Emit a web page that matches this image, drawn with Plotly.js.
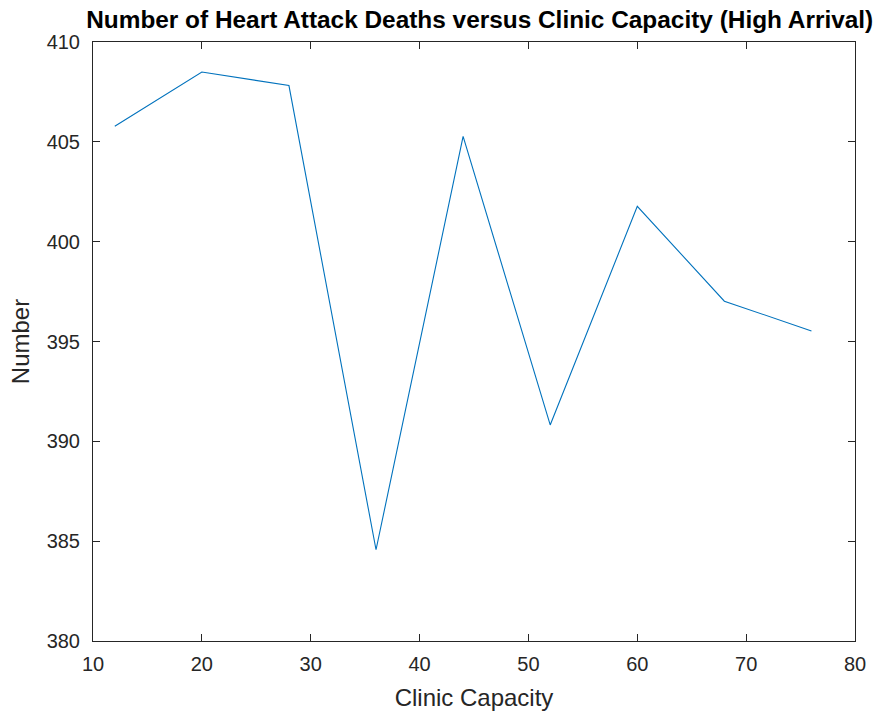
<!DOCTYPE html>
<html>
<head>
<meta charset="utf-8">
<script src="https://cdn.plot.ly/plotly-3.0.1.min.js"></script>
<style>html,body{margin:0;padding:0;background:#fff;}#chart{width:877px;height:719px;}</style>
</head>
<body>
<div id="chart"></div>
<script>
const capacity = [12, 20, 28, 36, 44, 52, 60, 68, 76];
const deaths = [405.78, 408.5, 407.82, 384.57, 405.27, 390.82, 401.77, 397.02, 395.53];
const xTicks = [10, 20, 30, 40, 50, 60, 70, 80];
const yTicks = [380, 385, 390, 395, 400, 405, 410];

const FONT = 'Liberation Sans, Arial, sans-serif';
const axisCommon = {
  showline: true, mirror: 'ticks', linecolor: '#262626', linewidth: 1,
  ticks: 'inside', ticklen: 7, tickcolor: '#262626', tickwidth: 1,
  showgrid: false, zeroline: false,
  tickfont: {family: FONT, size: 20, color: '#262626'}
};

Plotly.newPlot('chart', [{
  x: capacity, y: deaths, type: 'scatter', mode: 'lines',
  line: {color: '#0072BD', width: 1.1}
}], {
  width: 877, height: 719,
  margin: {l: 92.5, r: 22, t: 41.5, b: 77.5},
  paper_bgcolor: '#fff', plot_bgcolor: '#fff',
  showlegend: false,
  title: {text: '<b>Number of Heart Attack Deaths versus Clinic Capacity (High Arrival)</b>',
    font: {family: FONT, size: 24.4, color: '#000'},
    x: 0.547, xanchor: 'center', y: 0.973, yanchor: 'middle'},
  xaxis: Object.assign({}, axisCommon, {
    range: [10, 80], tickvals: xTicks, ticktext: xTicks.map(String), ticklabelstandoff: 5,
    title: {text: 'Clinic Capacity', font: {family: FONT, size: 24, color: '#262626'}, standoff: 15}
  }),
  yaxis: Object.assign({}, axisCommon, {
    range: [380, 410], tickvals: yTicks, ticktext: yTicks.map(String), ticklabelstandoff: 8,
    title: {text: 'Number', font: {family: FONT, size: 24, color: '#262626'}, standoff: 10}
  })
}, {staticPlot: true});
</script>
</body>
</html>
